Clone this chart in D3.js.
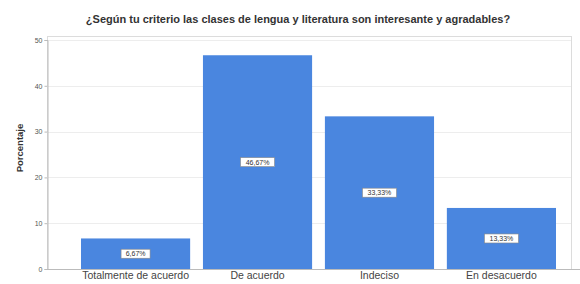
<!DOCTYPE html>
<html><head><meta charset="utf-8">
<script src="https://cdn.jsdelivr.net/npm/d3@7"></script>
<style>body{margin:0;background:#fff}svg{display:block}</style>
</head><body>
<svg id="c" width="580" height="284"></svg>
<script>
const title = "¿Según tu criterio las clases de lengua y literatura son interesante y agradables?";
const categories = ["Totalmente de acuerdo", "De acuerdo", "Indeciso", "En desacuerdo"];
const values = [6.67, 46.67, 33.33, 13.33];
const valueLabels = ["6,67%", "46,67%", "33,33%", "13,33%"];
const yTicks = [0, 10, 20, 30, 40, 50];
const yLabel = "Porcentaje";

const svg = d3.select("#c");
const plot = {l: 47, r: 571, t: 36, b: 269};
const y = d3.scaleLinear().domain([0, 50]).range([269, 40]);
const x = d3.scaleBand().domain(categories).range([81, 556]).paddingInner(0.105).paddingOuter(0);
const FONT = "Liberation Sans, Arial, sans-serif";

// frame
svg.append("rect").attr("x", plot.l + 0.5).attr("y", plot.t + 0.5).attr("width", plot.r - plot.l).attr("height", plot.b - plot.t)
  .attr("fill", "#fff").attr("stroke", "#dcdcdc").attr("stroke-width", 1);

// gridlines
svg.append("g").selectAll("line").data(yTicks.filter(d => d > 0)).join("line")
  .attr("x1", plot.l).attr("x2", plot.r).attr("y1", d => Math.round(y(d)) + 0.5).attr("y2", d => Math.round(y(d)) + 0.5)
  .attr("stroke", "#ededed");

// y axis
const ya = svg.append("g").attr("transform", `translate(${plot.l + 0.5},0)`)
  .call(d3.axisLeft(y).tickValues(yTicks).tickSize(3).tickPadding(2));
ya.select(".domain").attr("stroke", "#bbb");
ya.selectAll(".tick line").attr("stroke", "#bbb");
ya.selectAll("text").attr("font-family", FONT).attr("font-size", 7).attr("fill", "#555");

// x axis
const xa = svg.append("g").attr("transform", `translate(0,${plot.b})`)
  .call(d3.axisBottom(x).tickSize(0).tickPadding(3));
xa.select(".domain").remove();
svg.append("line").attr("x1", plot.l).attr("x2", 580).attr("y1", plot.b + 0.5).attr("y2", plot.b + 0.5).attr("stroke", "#bbb");
xa.selectAll("text").attr("font-family", FONT).attr("font-size", 10.5).attr("fill", "#444");

// bars
svg.append("g").selectAll("rect").data(values).join("rect")
  .attr("x", (d, i) => x(categories[i])).attr("width", x.bandwidth())
  .attr("y", d => y(d)).attr("height", d => y(0) - y(d))
  .attr("fill", "#4a86df");

// value labels
const lg = svg.append("g").selectAll("g").data(values).join("g")
  .attr("transform", (d, i) => `translate(${x(categories[i]) + x.bandwidth() / 2},${(y(d) + y(0)) / 2})`);
lg.append("rect").attr("x", (d, i) => -valueLabels[i].length * 2.5 - 2).attr("y", -4.5)
  .attr("width", (d, i) => valueLabels[i].length * 5 + 4).attr("height", 9)
  .attr("fill", "#fff").attr("stroke", "#888").attr("stroke-width", 0.6);
lg.append("text").text((d, i) => valueLabels[i]).attr("text-anchor", "middle").attr("dy", "0.35em")
  .attr("font-family", FONT).attr("font-size", 7).attr("fill", "#333");

// title
svg.append("text").attr("x", 298).attr("y", 23).attr("text-anchor", "middle")
  .attr("font-family", FONT).attr("font-size", 11).attr("font-weight", "bold").attr("fill", "#333").text(title);

// y label
svg.append("text").attr("transform", "translate(23,148) rotate(-90)").attr("text-anchor", "middle")
  .attr("font-family", FONT).attr("font-size", 9.5).attr("font-weight", "bold").attr("fill", "#333").text(yLabel);
</script>
</body></html>
